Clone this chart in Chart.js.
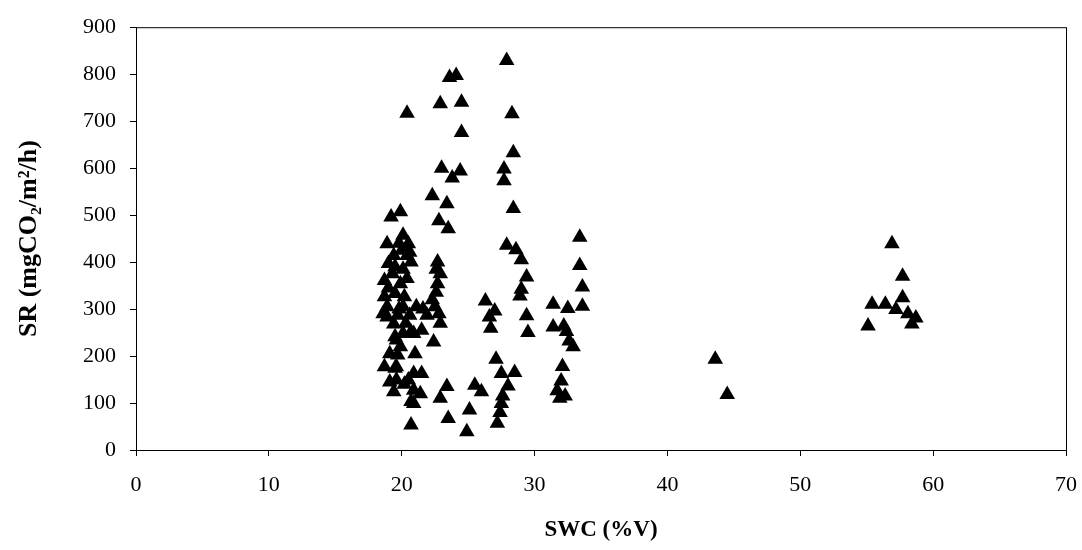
<!DOCTYPE html>
<html>
<head>
<meta charset="utf-8">
<script src="https://cdn.jsdelivr.net/npm/chart.js@4/dist/chart.umd.min.js"></script>
<style>
  body { margin: 0; background: #fff; }
  #wrap { width: 1082px; height: 550px; }
</style>
</head>
<body>
<div id="wrap"><canvas id="srChart"></canvas></div>
<script>
// soil water content (%V) for each measurement
const swc = [
  19.2, 19.9, 20.4, 18.9, 20.1, 20.5, 20.6, 19.4, 20.4, 20.7, 19.0, 19.5,
  18.7, 19.9, 20.4, 18.7, 20.2, 19.5, 18.9, 20.1, 21.1, 18.9, 19.7, 20.6,
  18.6, 21.9, 19.5, 20.1, 20.9, 21.5, 19.6, 20.7, 19.1, 19.7, 21.0, 18.7,
  19.5, 19.6, 20.9, 21.5, 19.1, 19.6, 20.5, 19.4, 20.9, 21.4, 20.7, 20.9,
  20.7, 19.8, 20.0, 19.3, 20.1, 19.0, 19.8, 20.3, 19.4, 21.6, 19.9, 20.2,
  22.3, 23.4, 22.8, 23.5, 23.0, 24.4, 23.8, 22.9, 24.5, 24.5, 23.6, 24.1,
  22.7, 22.9, 22.7, 22.6, 22.5, 22.8, 22.9, 22.4, 22.6, 22.3, 23.4, 22.9,
  23.5,
  25.5, 26.0, 25.1, 24.9, 26.3, 27.0, 26.6, 26.7, 27.1, 27.5, 28.5, 28.0,
  27.6, 27.5, 27.4, 27.2,
  27.9, 28.3, 28.4, 27.7, 27.7, 28.4, 27.9, 28.6, 29.0, 29.4, 29.0, 28.9,
  29.4, 29.5,
  33.4, 33.4, 33.6, 31.4, 32.5, 33.6, 31.4, 32.2, 32.4, 32.6, 32.9, 32.1,
  32.0, 31.7, 32.3, 31.9,
  43.6, 44.5,
  56.9, 57.7, 57.7, 55.4, 56.4, 57.2, 58.1, 58.7, 58.4, 55.1
];

// soil respiration (mgCO2/m2/h), same order as swc
const sr = [
  496, 507, 717, 439, 457, 439, 421, 414, 414, 400, 397, 390,
  361, 354, 365, 326, 326, 333, 305, 305, 305, 283, 287, 287,
  290, 287, 241, 248, 248, 255, 234, 251, 205, 202, 205, 177,
  174, 177, 163, 163, 145, 149, 149, 124, 127, 120, 103, 99,
  53, 440, 425, 375, 385, 345, 300, 270, 268, 300, 220, 140,
  541, 524, 488, 471, 600, 594, 579, 737, 740, 676, 793, 797,
  400, 375, 354, 336, 305, 290, 270, 230, 385, 320, 135, 110,
  67,
  138, 124, 85, 39, 317, 296, 283, 259, 193, 163, 165, 136,
  115, 99, 80, 57,
  829, 716, 633, 598, 573, 514, 436, 426, 405, 368, 342, 328,
  286, 250,
  453, 393, 347, 310, 301, 306, 262, 264, 252, 232, 220, 178,
  147, 126, 115, 110,
  193, 118,
  439, 370, 324, 310, 310, 299, 290, 281, 268, 264
];

const xTicks = [0, 10, 20, 30, 40, 50, 60, 70];
const yTicks = [0, 100, 200, 300, 400, 500, 600, 700, 800, 900];

const xTitle = 'SWC (%V)';
const yTitle = 'SR (mgCO\u2082/m\u00B2/h)';

const points = swc.map((x, i) => ({ x: x, y: sr[i] }));

// box around the plot area like the excel chart
const frame = {
  id: 'frame',
  afterDraw(chart) {
    const a = chart.chartArea;
    const ctx = chart.ctx;
    ctx.save();
    ctx.strokeStyle = '#000';
    ctx.lineWidth = 1;
    ctx.strokeRect(a.left + 0.5, a.top + 0.5, a.right - a.left, a.bottom - a.top);
    ctx.restore();
  }
};

const serif = '"Liberation Serif", "Times New Roman", serif';
const tickFont = { family: serif, size: 22 };

new Chart(document.getElementById('srChart'), {
  type: 'scatter',
  data: {
    datasets: [{
      data: points,
      pointStyle: 'triangle',
      pointRadius: 9,
      pointHoverRadius: 9,
      backgroundColor: '#000',
      borderColor: '#000',
      borderWidth: 0
    }]
  },
  options: {
    responsive: true,
    maintainAspectRatio: false,
    animation: false,
    layout: { padding: { left: 14, right: 16, top: 26, bottom: 6 } },
    plugins: { legend: { display: false }, tooltip: { enabled: false } },
    scales: {
      x: {
        type: 'linear',
        min: 0,
        max: 70,
        afterBuildTicks: axis => { axis.ticks = xTicks.map(v => ({ value: v })); },
        afterFit: axis => { axis.height = 94; axis.paddingRight = 0; axis.paddingLeft = 0; },
        ticks: { color: '#000', font: tickFont, padding: 16, maxRotation: 0 },
        grid: { drawOnChartArea: false, tickLength: 6, tickColor: '#000' },
        border: { color: '#000', width: 1 },
        title: { display: true, text: xTitle, color: '#000', font: { family: serif, size: 23, weight: 'bold' }, padding: { top: 0, bottom: 0 } }
      },
      y: {
        min: 0,
        max: 900,
        afterBuildTicks: axis => { axis.ticks = yTicks.map(v => ({ value: v })); },
        afterFit: axis => { axis.width = 122; },
        ticks: { color: '#000', font: tickFont, padding: 14 },
        grid: { drawOnChartArea: false, tickLength: 6, tickColor: '#000' },
        border: { color: '#000', width: 1 },
        title: { display: true, text: yTitle, color: '#000', font: { family: serif, size: 26, weight: 'bold' }, padding: { top: 0, bottom: 0 } }
      }
    }
  },
  plugins: [frame]
});
</script>
</body>
</html>
